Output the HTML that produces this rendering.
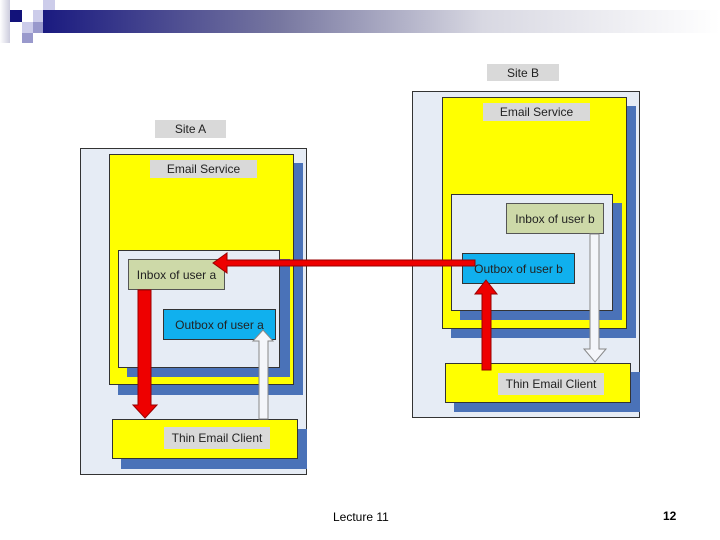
<!DOCTYPE html>
<html><head><style>
body{margin:0;width:720px;height:540px;background:#fff;position:relative;overflow:hidden;font-family:"Liberation Sans",sans-serif}
div{position:absolute;box-sizing:border-box}
.t{font-size:12px;color:#222;text-align:center;display:flex;align-items:center;justify-content:center}
.lab{background:#d9d9d9}
.sh{background:#4a72b8}
.yl{background:#ffff00;border:1px solid #333}
.lt{background:#e6ecf5;border:1px solid #333}
</style></head><body>
<div style="left:0;top:0;width:10px;height:43px;background:linear-gradient(90deg,#fff,#ccd)"></div>
<div style="left:10px;top:10px;width:12px;height:12px;background:#12127a"></div>
<div style="left:43px;top:0;width:12px;height:10px;background:#ccccea"></div>
<div style="left:33px;top:10px;width:12px;height:12px;background:#ccccea"></div>
<div style="left:22px;top:22px;width:11px;height:11px;background:#ccccea"></div>
<div style="left:33px;top:22px;width:10px;height:11px;background:#9999cc"></div>
<div style="left:22px;top:33px;width:11px;height:10px;background:#9999cc"></div>
<div style="left:43px;top:10px;width:677px;height:23px;background:linear-gradient(90deg,#1a1a80,#7777a0 35%,#d8d8e2 65%,#fff)"></div>

<!-- Site A -->
<div class="t lab" style="left:155px;top:120px;width:71px;height:18px">Site A</div>
<div class="lt" style="left:80px;top:148px;width:227px;height:327px"></div>
<div class="sh" style="left:118px;top:163px;width:185px;height:232px"></div>
<div class="yl" style="left:109px;top:154px;width:185px;height:231px"></div>
<div class="t lab" style="left:150px;top:160px;width:107px;height:18px">Email Service</div>
<div class="sh" style="left:127px;top:259px;width:163px;height:118px"></div>
<div class="lt" style="left:118px;top:250px;width:162px;height:118px"></div>
<div class="t" style="left:128px;top:259px;width:97px;height:31px;background:#cdd9a8;border:1px solid #555">Inbox of user a</div>
<div class="t" style="left:163px;top:309px;width:113px;height:31px;background:#10b0ee;border:1px solid #333">Outbox of user a</div>
<div class="sh" style="left:121px;top:429px;width:186px;height:40px"></div>
<div class="yl" style="left:112px;top:419px;width:186px;height:40px"></div>
<div class="t lab" style="left:164px;top:427px;width:106px;height:22px">Thin Email Client</div>

<!-- Site B -->
<div class="t lab" style="left:487px;top:64px;width:72px;height:17px">Site B</div>
<div class="lt" style="left:412px;top:91px;width:228px;height:327px"></div>
<div class="sh" style="left:451px;top:106px;width:185px;height:232px"></div>
<div class="yl" style="left:442px;top:97px;width:185px;height:232px"></div>
<div class="t lab" style="left:483px;top:103px;width:107px;height:18px">Email Service</div>
<div class="sh" style="left:460px;top:203px;width:162px;height:117px"></div>
<div class="lt" style="left:451px;top:194px;width:162px;height:117px"></div>
<div class="t" style="left:506px;top:203px;width:98px;height:31px;background:#cdd9a8;border:1px solid #555">Inbox of user b</div>
<div class="t" style="left:462px;top:253px;width:113px;height:31px;background:#10b0ee;border:1px solid #333">Outbox of user b</div>
<div class="sh" style="left:454px;top:372px;width:186px;height:40px"></div>
<div class="yl" style="left:445px;top:363px;width:186px;height:40px"></div>
<div class="t lab" style="left:498px;top:373px;width:106px;height:22px">Thin Email Client</div>

<svg width="720" height="540" style="position:absolute;left:0;top:0">
<g fill="#e00" stroke="#900" stroke-width="1">
<polygon points="475,260 227,260 227,253 213,263 227,273 227,266 475,266"/>
<polygon points="138,290 151,290 151,405 157,405 145,418 133,405 138,405"/>
<polygon points="482,370 491,370 491,294 497,294 486,280 475,294 482,294"/>
</g>
<g fill="#f4f6fa" stroke="#888" stroke-width="1">
<polygon points="259,419 268,419 268,341 273,341 263,330 253,341 259,341"/>
<polygon points="590,234 599,234 599,349 606,349 595,362 584,349 590,349"/>
</g>
</svg>
<div style="left:333px;top:510px;font-size:12px">Lecture 11</div>
<div style="left:663px;top:509px;font-size:12px;font-weight:bold">12</div>
</body></html>
